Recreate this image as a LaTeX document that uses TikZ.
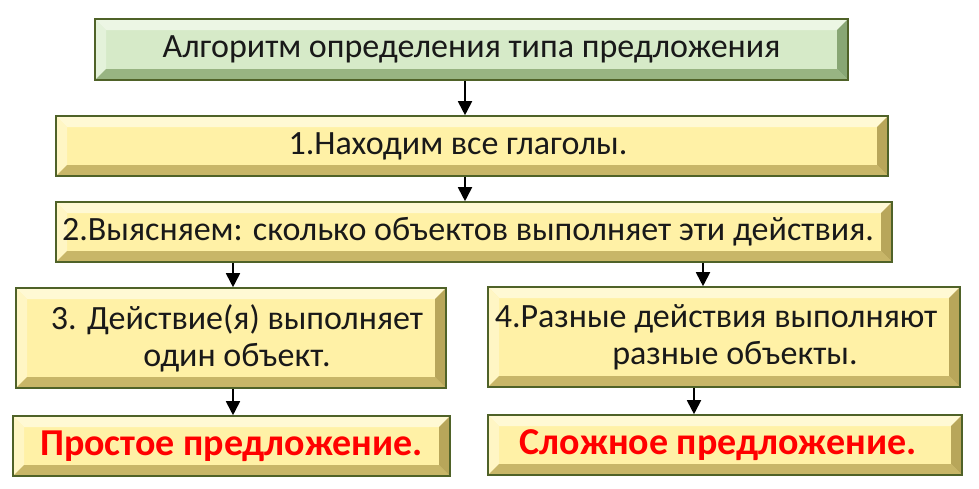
\documentclass[tikz,border=0pt]{standalone}
\usepackage{fontspec}
\setmainfont{Carlito}
\usetikzlibrary{arrows.meta,calc}
\definecolor{yel}{RGB}{255,241,166}
\definecolor{yelT}{RGB}{255,249,212}
\definecolor{yelL}{RGB}{255,246,196}
\definecolor{yelB}{RGB}{200,182,104}
\definecolor{yelR}{RGB}{184,166,90}
\definecolor{grn}{RGB}{214,234,200}
\definecolor{grnT}{RGB}{236,246,228}
\definecolor{grnL}{RGB}{228,242,218}
\definecolor{grnB}{RGB}{152,180,130}
\definecolor{grnR}{RGB}{136,166,116}
\definecolor{edge}{RGB}{79,98,40}
\definecolor{redtxt}{RGB}{255,0,0}
\tikzset{
  bevel/.style n args={4}{path picture={
    \coordinate (pNW) at (path picture bounding box.north west);
    \coordinate (pNE) at (path picture bounding box.north east);
    \coordinate (pSW) at (path picture bounding box.south west);
    \coordinate (pSE) at (path picture bounding box.south east);
    \fill[#1] (pNW) -- (pNE) -- ($(pNE)+(-11,11)$) -- ($(pNW)+(11,11)$) -- cycle;
    \fill[#2] (pNW) -- ($(pNW)+(11,11)$) -- ($(pSW)+(11,-11)$) -- (pSW) -- cycle;
    \fill[#3] (pSW) -- ($(pSW)+(11,-11)$) -- ($(pSE)+(-11,-11)$) -- (pSE) -- cycle;
    \fill[#4] (pNE) -- (pSE) -- ($(pSE)+(-11,-11)$) -- ($(pNE)+(-11,11)$) -- cycle;
  }},
  box/.style={draw=edge, line width=1.6pt, inner sep=0pt, align=center,
    font=\fontsize{34}{37}\selectfont, text=black!90},
  ybox/.style={box, fill=yel, bevel={yelT}{yelL}{yelB}{yelR}},
  gbox/.style={box, fill=grn, bevel={grnT}{grnL}{grnB}{grnR}},
  arr/.style={line width=1.8pt, -{Triangle[width=14pt,length=14pt]}}
}
\newcommand{\redbig}[1]{\textcolor{redtxt}{\bfseries\fontsize{38}{42}\selectfont #1}}
\begin{document}
\begin{tikzpicture}[x=1pt,y=-1pt]
\useasboundingbox (0,0) rectangle (979,488);
\node[gbox, minimum width=753, minimum height=61] (b0) at (471.5,49.5)
  {Алгоритм определения типа предложения};
\node[ybox, minimum width=832, minimum height=60] (b1) at (472,146)
  {1.Находим все глаголы.\hspace*{28pt}};
\node[ybox, minimum width=836, minimum height=60] (b2) at (474,232)
  {2.Выясняем: сколько объектов выполняет эти действия.\hspace*{12pt}};
\node[ybox, minimum width=430, minimum height=100] (b3) at (231,338)
  {\hspace*{12pt}3. Действие(я) выполняет\\\hspace*{12pt}один объект.};
\node[ybox, minimum width=472, minimum height=100] (b4) at (724,337)
  {4.Разные действия выполняют\hspace*{16pt}\\\hspace*{22pt}разные объекты.};
\node[ybox, minimum width=437, minimum height=60] (b5) at (231.5,446)
  {\redbig{Простое предложение.}};
\node[ybox, minimum width=474, minimum height=60] (b6) at (725,445)
  {\redbig{Сложное предложение.}\hspace*{14pt}};
\draw[arr] (b0.south -| 465,0) -- (b1.north -| 465,0);
\draw[arr] (b1.south -| 465,0) -- (b2.north -| 465,0);
\draw[arr] (b2.south -| 233,0) -- (b3.north -| 233,0);
\draw[arr] (b2.south -| 703,0) -- (b4.north -| 703,0);
\draw[arr] (b3.south -| 233,0) -- (b5.north -| 233,0);
\draw[arr] (b4.south -| 694,0) -- (b6.north -| 694,0);
\end{tikzpicture}
\end{document}
